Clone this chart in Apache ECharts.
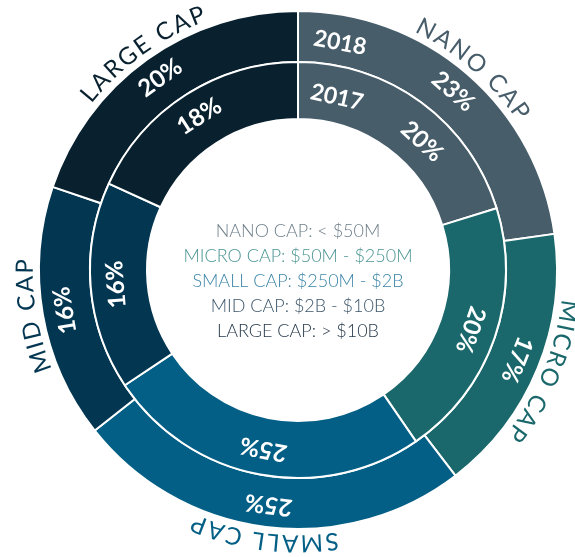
<!DOCTYPE html>
<html>
<head>
<meta charset="utf-8">
<script src="https://cdn.jsdelivr.net/npm/echarts@6/dist/echarts.min.js"></script>
<style>
  html, body { margin: 0; padding: 0; background: #fff; }
  #chart { width: 575px; height: 557px; }
</style>
</head>
<body>
<div id="chart"></div>
<script>
const categories = ['NANO CAP', 'MICRO CAP', 'SMALL CAP', 'MID CAP', 'LARGE CAP']
const ranges = ['< $50M', '$50M - $250M', '$250M - $2B', '$2B - $10B', '> $10B']
const values2018 = [23, 17, 25, 16, 20]
const values2017 = [20, 20, 25, 16, 18]
const years = ['2018', '2017']

const colors = ['#475d6a', '#1a686b', '#035f85', '#033651', '#09212f']
const rangeColors = ['#6e7f89', '#4b9593', '#3b85a7', '#3c566a', '#27394a']

const cx = 298, cy = 270
const FONT = 'Lato, "Noto Sans", sans-serif'

// mid angle of each slice, degrees clockwise from 12 o'clock
function midAngles(values) {
  const total = values.reduce((a, b) => a + b, 0)
  let cum = 0
  return values.map(v => {
    const a = (cum + v / 2) / total * 360
    cum += v
    return a
  })
}

function ringData(values, shifts) {
  const angles = midAngles(values)
  return values.map((v, i) => ({
    name: categories[i],
    value: v,
    itemStyle: { color: colors[i] },
    label: { rotate: -angles[i] - (shifts ? shifts[i][2] : 0), offset: shifts ? shifts[i].slice(0, 2) : [0, 0] }
  }))
}

const measureCtx = document.createElement('canvas').getContext('2d')

// letters laid along an arc, top of the glyphs pointing outward
function arcText(text, angleDeg, r, color, size, spacing) {
  measureCtx.font = size + 'px ' + FONT
  const chars = text.split('')
  const widths = chars.map(ch => measureCtx.measureText(ch).width + spacing)
  const total = widths.reduce((a, b) => a + b, 0) - spacing
  const a0 = angleDeg * Math.PI / 180 - total / 2 / r
  let acc = 0
  return chars.map((ch, i) => {
    const a = a0 + (acc + (widths[i] - spacing) / 2) / r
    acc += widths[i]
    return {
      type: 'text',
      z: 100,
      x: cx + r * Math.sin(a),
      y: cy - r * Math.cos(a),
      rotation: -a,
      style: { text: ch, fill: color, font: size + 'px ' + FONT, align: 'center', verticalAlign: 'middle' }
    }
  })
}

function polarText(text, angleDeg, r, opts) {
  const a = angleDeg * Math.PI / 180
  return {
    type: 'text',
    z: 100,
    x: cx + r * Math.sin(a),
    y: cy - r * Math.cos(a),
    rotation: -a,
    style: Object.assign({ text: text, align: 'center', verticalAlign: 'middle' }, opts)
  }
}

const outerAngles = midAngles(values2018)
let graphics = []
categories.forEach((c, i) => {
  graphics = graphics.concat(arcText(c, outerAngles[i], 273, colors[i], 24, 2.5))
})
graphics.push(polarText(years[0], 10.5, 231, { fill: '#fff', font: 'bold 23px ' + FONT }))
graphics.push(polarText(years[1], 12.7, 177, { fill: '#fff', font: 'bold 23px ' + FONT }))
categories.forEach((c, i) => {
  graphics.push({
    type: 'text',
    z: 100,
    x: cx,
    y: 231 + i * 25,
    style: { text: c + ': ' + ranges[i], fill: rangeColors[i], font: '300 18px ' + FONT, align: 'center', verticalAlign: 'middle' }
  })
})

const chart = echarts.init(document.getElementById('chart'))

const pieBase = {
  type: 'pie',
  center: [cx, cy],
  startAngle: 90,
  clockwise: true,
  animation: false,
  avoidLabelOverlap: false,
  silent: true,
  itemStyle: { borderColor: '#fff', borderWidth: 2 },
  label: {
    show: true,
    position: 'inside',
    formatter: '{c}%',
    color: '#fff',
    fontFamily: FONT,
    fontSize: 24,
    fontWeight: 'bold'
  },
  labelLine: { show: false },
  emphasis: { disabled: true }
}

chart.setOption({
  animation: false,
  series: [
    Object.assign({}, pieBase, {
      name: years[0],
      radius: [208, 259],
      data: ringData(values2018)
    }),
    Object.assign({}, pieBase, {
      name: years[1],
      radius: [151, 208],
      data: ringData(values2017, [[24, 3, 6], [0, 0, 0], [0, 0, 0], [0, 0, 0], [0, 0, 0]])
    })
  ],
  graphic: { elements: graphics }
})
</script>
</body>
</html>
